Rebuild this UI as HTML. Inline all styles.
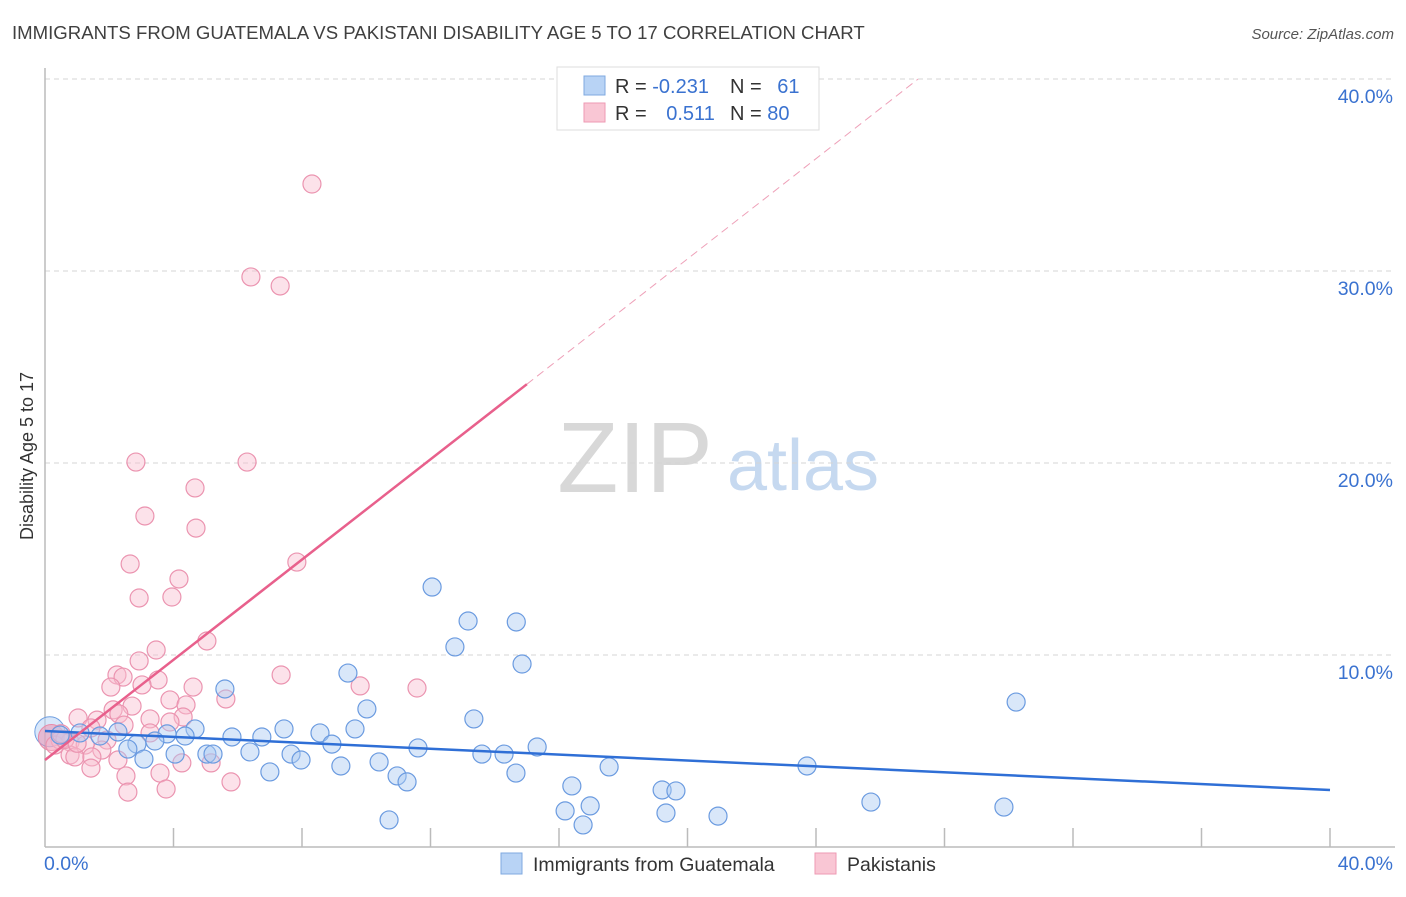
<!DOCTYPE html>
<html><head><meta charset="utf-8"><style>
body{margin:0;background:#fff;font-family:"Liberation Sans",sans-serif}
svg text{font-family:"Liberation Sans",sans-serif}
</style></head><body>
<svg id="chart" width="1406" height="892" xmlns="http://www.w3.org/2000/svg">
<text x="12" y="39" font-size="18.6" fill="#404040">IMMIGRANTS FROM GUATEMALA VS PAKISTANI DISABILITY AGE 5 TO 17 CORRELATION CHART</text>
<text x="1394" y="39" font-size="15" fill="#555" text-anchor="end" font-style="italic">Source: ZipAtlas.com</text>
<text transform="translate(33,456) rotate(-90)" font-size="18" fill="#333" text-anchor="middle">Disability Age 5 to 17</text>
<g>
<text x="635" y="492" font-size="100" fill="#d8d8d8" font-family="Liberation Serif,serif" text-anchor="middle">ZIP</text>
<text x="803" y="490" font-size="72" fill="#c6d9f0" text-anchor="middle">atlas</text>
</g>
<g id="grid"></g>
<g id="axes"></g>
<g id="marks"></g>
<g>
<rect x="557" y="67" width="262" height="63" fill="#fff" stroke="#ddd"/>
<rect x="584" y="76" width="21" height="19" fill="#b8d3f5" stroke="#7fa9e0"/>
<rect x="584" y="103" width="21" height="19" fill="#f9c6d4" stroke="#ee9ab3"/>
<text x="615" y="93" font-size="20" fill="#333">R = <tspan fill="#3a72d0">-0.231</tspan></text>
<text x="730" y="93" font-size="20" fill="#333">N = <tspan fill="#3a72d0" dx="10">61</tspan></text>
<text x="615" y="120" font-size="20" fill="#333">R = <tspan fill="#3a72d0" dx="14">0.511</tspan></text>
<text x="730" y="120" font-size="20" fill="#333">N = <tspan fill="#3a72d0">80</tspan></text>
</g>
<g>
<rect x="501" y="853" width="21" height="21" fill="#b8d3f5" stroke="#7fa9e0"/>
<text x="533" y="871" font-size="19.5" fill="#333">Immigrants from Guatemala</text>
<rect x="815" y="853" width="21" height="21" fill="#f9c6d4" stroke="#ee9ab3"/>
<text x="847" y="871" font-size="19.5" fill="#333">Pakistanis</text>
</g>
</svg>
<script>
const xTicks=[0,4,8,12,16,20,24,28,32,36,40];
const yTickValues=[10,20,30,40];
const yTickLabels=["10.0%","20.0%","30.0%","40.0%"];
const xEndLabels=["0.0%","40.0%"];
const blueX=[12.05,13.17,14.67,12.76,14.85,9.43,5.60,10.02,30.23,13.35,4.67,7.44,9.65,8.56,5.82,6.75,3.80,4.36,2.27,2.86,3.42,1.71,1.09,0.47,8.93,11.61,15.32,2.58,4.05,5.04,5.23,6.38,7.66,7.97,13.60,14.29,3.08,9.21,10.40,17.56,23.72,7.00,10.96,11.27,14.66,16.40,19.21,19.64,25.71,29.85,16.97,16.19,19.33,20.95,10.71,16.75];
const blueY=[13.54,11.77,11.72,10.42,9.53,9.06,8.23,7.19,7.55,6.67,6.15,6.15,6.15,5.94,5.73,5.73,5.89,5.78,5.99,5.36,5.52,5.78,5.94,5.83,5.36,5.16,5.21,5.10,4.84,4.84,4.84,4.95,4.84,4.53,4.84,4.84,4.58,4.22,4.43,4.17,4.22,3.91,3.70,3.39,3.85,3.18,2.97,2.92,2.34,2.08,2.14,1.88,1.77,1.61,1.41,1.15];
const pinkX=[8.31,6.41,7.32,2.83,6.29,4.67,3.11,4.70,7.84,2.65,4.17,2.93,3.95,5.04,3.46,2.93,2.24,2.43,7.35,3.52,3.02,2.05,4.61,9.81,11.58,5.63,3.89,4.39,2.71,2.12,2.30,3.27,4.30,1.62,1.03,2.46,3.89,1.43,3.27,1.93,0.47,0.78,1.25,1.77,0.78,0.93,1.46,2.27,4.26,5.17,1.43,3.58,2.52,5.79,3.77,2.58,0.31,0.62,1.0,0.5];
const pinkY=[34.53,29.69,29.22,20.05,20.05,18.70,17.24,16.61,14.84,14.74,13.96,12.97,13.02,10.73,10.26,9.69,8.96,8.85,8.96,8.70,8.44,8.33,8.33,8.39,8.28,7.71,7.66,7.40,7.34,7.14,6.93,6.67,6.77,6.61,6.72,6.35,6.51,6.20,5.94,5.57,5.57,5.47,5.31,5.05,4.79,4.69,4.69,4.53,4.38,4.38,4.11,3.85,3.70,3.39,3.02,2.86,5.31,5.6,5.4,5.9];
const blueTrend=[6.04,2.97];
const pinkTrend=[4.53,1.305];
const NS="http://www.w3.org/2000/svg";
const X0=45,X1=1330,Y0=847,Y1=79;
const sx=v=>X0+(X1-X0)*v/40;
const sy=v=>Y0-(Y0-Y1)*v/40;
function mk(t,a,p){const e=document.createElementNS(NS,t);for(const k in a)e.setAttribute(k,a[k]);p.appendChild(e);return e;}
const grid=document.getElementById('grid'),axes=document.getElementById('axes'),marks=document.getElementById('marks');
yTickValues.forEach((v,i)=>{
 const l=mk('line',{x1:X0,x2:1395,y1:sy(v),y2:sy(v),stroke:'#d5d5d5','stroke-dasharray':'5,4'},grid);
 
 
 const t=mk('text',{x:1393,y:sy(v)+24,'font-size':19.5,fill:'#3a72d0','text-anchor':'end'},axes);
 t.textContent=yTickLabels[i];
 
 
});
let a=mk('line',{x1:X0,x2:X0,y1:68,y2:Y0,stroke:'#bbb','stroke-width':1.5},axes);


a=mk('line',{x1:X0,x2:1395,y1:Y0,y2:Y0,stroke:'#bbb','stroke-width':1.5},axes);


xTicks.forEach(v=>{if(v===0)return;
 const l=mk('line',{x1:sx(v),x2:sx(v),y1:828,y2:Y0,stroke:'#bbb','stroke-width':1.5},axes);
 
 
});
let t=mk('text',{x:44,y:870,'font-size':19.5,fill:'#3a72d0'},axes);t.textContent=xEndLabels[0];


t=mk('text',{x:1393,y:870,'font-size':19.5,fill:'#3a72d0','text-anchor':'end'},axes);t.textContent=xEndLabels[1];


let c=mk('circle',{cx:sx(0.15),cy:sy(6.0),r:15,fill:'rgba(184,211,245,0.55)',stroke:'#6f9fe0'},marks);


c=mk('circle',{cx:sx(0.2),cy:sy(5.7),r:13,fill:'rgba(240,140,170,0.5)',stroke:'#e88aa8'},marks);


pinkX.forEach((x,i)=>{
 const e=mk('circle',{cx:sx(x),cy:sy(pinkY[i]),r:9,fill:'rgba(249,190,208,0.45)',stroke:'#eb94b0','stroke-width':1.2},marks);
 
 
});
blueX.forEach((x,i)=>{
 const e=mk('circle',{cx:sx(x),cy:sy(blueY[i]),r:9,fill:'rgba(170,202,242,0.45)',stroke:'#6b9be0','stroke-width':1.2},marks);
 
 
});
let L=mk('line',{x1:sx(0),y1:sy(blueTrend[0]),x2:sx(40),y2:sy(blueTrend[1]),stroke:'#2f6fd6','stroke-width':2.5},marks);


L=mk('line',{x1:sx(0),y1:sy(pinkTrend[0]),x2:sx(15),y2:sy(pinkTrend[0]+pinkTrend[1]*15),stroke:'#e8608c','stroke-width':2.5},marks);


const xe=(40-pinkTrend[0])/pinkTrend[1];
L=mk('line',{x1:sx(15),y1:sy(pinkTrend[0]+pinkTrend[1]*15),x2:sx(xe),y2:sy(40),stroke:'#eea0b8','stroke-width':1,'stroke-dasharray':'8,5'},marks);


</script>
</body></html>
